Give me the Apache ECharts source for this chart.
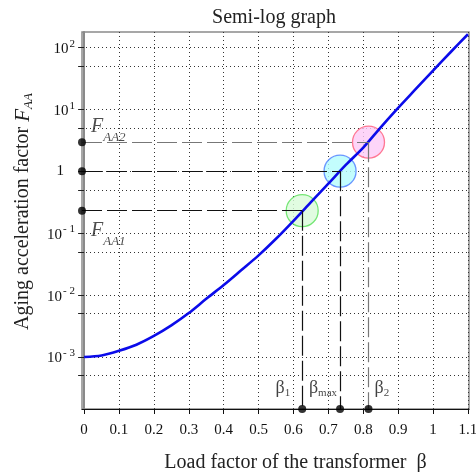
<!DOCTYPE html>
<html>
<head>
<meta charset="utf-8">
<script src="https://cdn.jsdelivr.net/npm/echarts@6/dist/echarts.min.js"></script>
<style>
  html, body { margin: 0; padding: 0; background: #fff; }
  #chart { width: 476px; height: 472px; }
</style>
</head>
<body>
<div id="chart"></div>
<script>
// Load factor β of the transformer
const loadFactor = [0, 0.05, 0.1, 0.15, 0.2, 0.25, 0.3, 0.35, 0.4, 0.45, 0.5, 0.55,
  0.6, 0.65, 0.7, 0.75, 0.8, 0.85, 0.9, 0.95, 1.0, 1.05, 1.1];
// Aging acceleration factor F_AA at each load factor
const agingFactor = [0.0010, 0.00106, 0.00126, 0.00158, 0.00219, 0.00324, 0.00513,
  0.0087, 0.0145, 0.0251, 0.0437, 0.081, 0.158, 0.316, 0.63, 1.26, 2.4, 5.1,
  10.5, 21, 42, 83, 162];

// Axis ticks and labels
const xTicks = [0, 0.1, 0.2, 0.3, 0.4, 0.5, 0.6, 0.7, 0.8, 0.9, 1, 1.1];
const yTicks = [0.0005, 0.001, 0.005, 0.01, 0.05, 0.1, 0.5, 1, 5, 10, 50, 100];
const yLabels = [0.001, 0.01, 0.1, 1, 10, 100];

// Marked operating points: β1, βmax, β2 and their aging factors
const pointNames = ['1', 'max', '2'];
const pointBeta = [0.625, 0.7335, 0.815];
const pointFaa = [0.23, 1.0, 2.93];
const levelNames = ['AA1', '', 'AA2'];

// Axis ranges
const xMin = -0.006, xMax = 1.103;
const yMin = 1.45e-4, yMax = 176;

const SERIF = 'Liberation Serif';
const circleFill = ['#d9fbd9', '#b4fcfd', '#fccaf6'];
const circleEdge = ['#55e055', '#4a7cff', '#ff5a78'];
const guideColor = ['#111', '#111', '#777'];

const curve = loadFactor.map((b, i) => [b, agingFactor[i]]);

// Dashed guide lines from each point to both axes
const guides = [];
pointBeta.forEach((b, i) => {
  const style = { color: guideColor[i], width: 1.2, type: [20, 5] };
  guides.push([{ coord: [xMin, pointFaa[i]], lineStyle: style }, { coord: [b, pointFaa[i]] }]);
  guides.push([{ coord: [b, pointFaa[i]], lineStyle: style }, { coord: [b, yMin] }]);
});

const betaLabelPlace = [
  { position: 'left', distance: 5, offset: [-3, -20] },
  { position: 'left', distance: 0, offset: [1, -20] },
  { position: 'right', distance: 2, offset: [0, -20] }
];
const levelLabelOffset = [[0, 24], [0, 0], [0, -12]];

const chart = echarts.init(document.getElementById('chart'), null, { renderer: 'canvas' });

chart.setOption({
  animation: false,
  backgroundColor: '#fff',
  title: {
    text: 'Semi-log graph',
    left: 269, top: 3,
    textAlign: 'center',
    textStyle: { fontFamily: SERIF, fontSize: 20, fontWeight: 'normal', color: '#222' }
  },
  grid: {
    left: 82, top: 32, right: 7, bottom: 63,
    outerBoundsMode: 'none',
    show: true, borderColor: '#8a8a8a', borderWidth: 1.5
  },
  xAxis: {
    type: 'value',
    min: xMin, max: xMax,
    name: 'Load factor of the transformer  β',
    nameLocation: 'middle',
    nameGap: 44,
    nameTextStyle: { fontFamily: SERIF, fontSize: 20, color: '#222', padding: [0, 0, 0, 40] },
    axisLine: { show: true, lineStyle: { color: '#111', width: 1 } },
    axisTick: { show: true, customValues: xTicks, length: 5, lineStyle: { color: '#111' } },
    axisLabel: {
      customValues: xTicks, margin: 14,
      fontFamily: SERIF, fontSize: 15, color: '#111',
      formatter: v => String(+(+v).toFixed(2))
    },
    splitLine: { show: true, lineStyle: { color: '#333', width: 1, type: [1, 3] } }
  },
  yAxis: {
    type: 'log',
    logBase: 10,
    min: yMin, max: yMax,
    name: '{t|Aging acceleration factor }{f|F}{s|AA}',
    nameLocation: 'middle',
    nameRotate: 90,
    nameGap: 47,
    nameTextStyle: {
      padding: [0, 0, 0, 18],
      rich: {
        t: { fontFamily: SERIF, fontSize: 20, color: '#222', lineHeight: 24 },
        f: { fontFamily: SERIF, fontSize: 21, fontStyle: 'italic', color: '#222', lineHeight: 24 },
        s: { fontFamily: SERIF, fontSize: 13, fontStyle: 'italic', color: '#222', lineHeight: 13, verticalAlign: 'bottom' }
      }
    },
    axisLine: { show: true, lineStyle: { color: '#8a8a8a', width: 2 } },
    axisTick: { show: true, customValues: yTicks, length: 6, lineStyle: { color: '#222' } },
    minorTick: { show: false },
    axisLabel: {
      customValues: yLabels, margin: 7,
      formatter: v => {
        const n = Math.round(Math.log10(v));
        if (n === 0) return '{one|1}';
        return '{b|10}{p|' + (n < 0 ? '- ' + (-n) : n) + '}';
      },
      rich: {
        b: { fontFamily: SERIF, fontSize: 15, color: '#111', lineHeight: 18, verticalAlign: 'bottom' },
        p: { fontFamily: SERIF, fontSize: 11, color: '#111', lineHeight: 11, verticalAlign: 'top', padding: [0, 0, 0, 1] },
        one: { fontFamily: SERIF, fontSize: 15, color: '#111', padding: [0, 11, 0, 0] }
      }
    },
    splitLine: { show: true, lineStyle: { color: '#333', width: 1, type: [1, 3] } }
  },
  series: [
    {
      name: 'circles',
      type: 'scatter',
      z: 2,
      clip: false,
      symbolSize: 32,
      data: pointBeta.map((b, i) => ({
        value: [b, pointFaa[i]],
        itemStyle: { color: circleFill[i], borderColor: circleEdge[i], borderWidth: 1.3 }
      })),
      markLine: {
        silent: true,
        symbol: ['none', 'none'],
        label: { show: false },
        data: guides
      }
    },
    {
      name: 'F_AA',
      type: 'line',
      z: 3,
      smooth: 0.3,
      showSymbol: false,
      lineStyle: { color: '#0b0bea', width: 2.6 },
      data: curve
    },
    {
      name: 'beta marks',
      type: 'scatter',
      z: 5,
      clip: false,
      symbolSize: 8,
      itemStyle: { color: '#000' },
      data: pointBeta.map((b, i) => ({
        value: [b, yMin],
        label: Object.assign({
          show: true,
          formatter: '{b|β}{s|' + pointNames[i] + '}',
          rich: {
            b: { fontFamily: SERIF, fontSize: 18, color: '#111', lineHeight: 20, verticalAlign: 'top' },
            s: { fontFamily: SERIF, fontSize: 11, color: '#111', lineHeight: 11, verticalAlign: 'bottom' }
          }
        }, betaLabelPlace[i])
      }))
    },
    {
      name: 'level marks',
      type: 'scatter',
      z: 5,
      clip: false,
      symbolSize: 8,
      itemStyle: { color: '#000' },
      data: pointFaa.map((f, i) => ({
        value: [xMin, f],
        label: {
          show: levelNames[i] !== '',
          position: 'right',
          distance: 5,
          offset: levelLabelOffset[i],
          formatter: '{f|F}{s|' + levelNames[i] + '}',
          rich: {
            f: { fontFamily: SERIF, fontSize: 20, fontStyle: 'italic', color: '#222', lineHeight: 20, verticalAlign: 'top' },
            s: { fontFamily: SERIF, fontSize: 13, fontStyle: 'italic', color: '#222', lineHeight: 27, verticalAlign: 'bottom' }
          }
        }
      }))
    }
  ]
});
</script>
</body>
</html>
